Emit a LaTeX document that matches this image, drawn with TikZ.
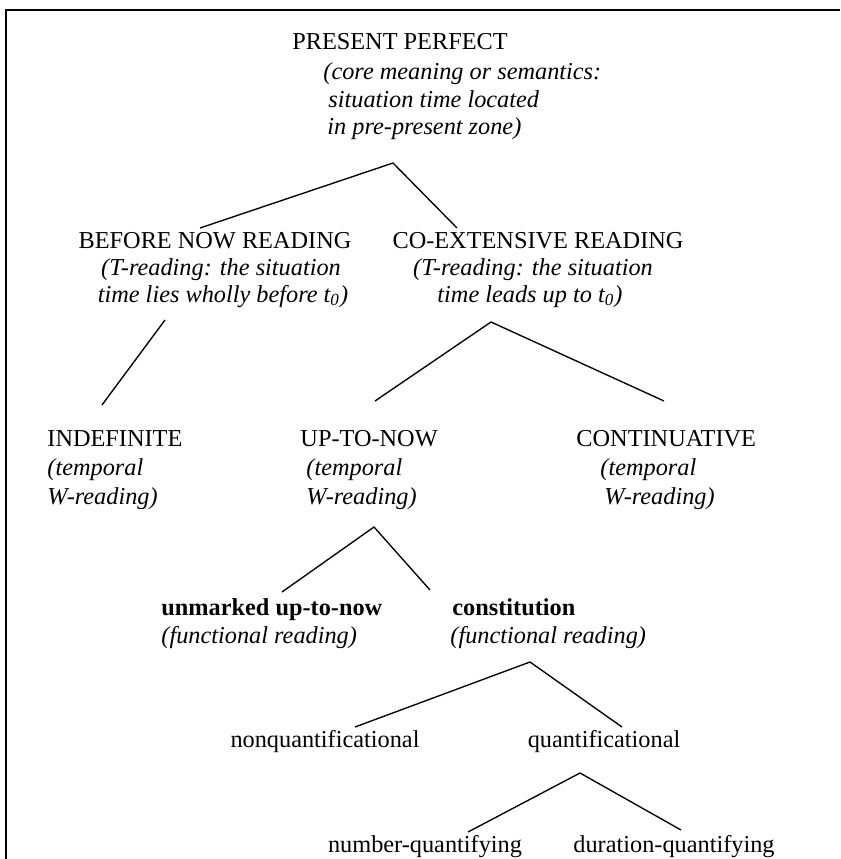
\documentclass[tikz,border=0pt]{standalone}
\usepackage{fontspec}
\setmainfont{Liberation Serif}
\usetikzlibrary{calc}

\tikzset{
  txt/.style={inner sep=0pt, anchor=base, font=\fontsize{10.8}{12.4}\selectfont},
  ltxt/.style={txt, anchor=base west},
  leg/.style={line width=.6pt},
}

\begin{document}
\begin{tikzpicture}[x=0.4444pt, y=-0.4444pt]
\useasboundingbox (0,0) rectangle (840,859);
% frame
\draw[line width=.9pt] (6,859) -- (6,10) -- (840,10);

% present perfect
\node[txt] (pp) at (400,50) {PRESENT PERFECT};
\node[ltxt] (pp-1) at (323,80) {\textit{(core meaning or semantics:}};
\node[ltxt] (pp-2) at (328,108) {\textit{situation time located}};
\node[ltxt] (pp-3) at (327,135) {\textit{in pre-present zone)}};
\coordinate (pp-a) at (393,163);

% readings
\node[txt] (bnr) at (215,248) {BEFORE NOW READING};
\node[txt] (bnr-1) at (221,275) {\textit{(T-reading: the situation}};
\node[txt] (bnr-2) at (223,302) {\textit{time lies wholly before t\textsubscript{0})}};
\node[txt] (cer) at (538,248) {CO-EXTENSIVE READING};
\node[txt] (cer-1) at (533,275) {\textit{(T-reading: the situation}};
\node[txt] (cer-2) at (530,302) {\textit{time leads up to t\textsubscript{0})}};
\coordinate (bnr-t) at (200,228);
\coordinate (cer-t) at (457,228);
\draw[leg] (bnr-t) -- (pp-a) -- (cer-t);

\coordinate (bnr-a) at (165,320);
\coordinate (cer-a) at (491,322);

% temporal W-readings
\node[ltxt] (ind) at (47,446) {INDEFINITE};
\node[ltxt] (ind-1) at (47,475) {\textit{(temporal}};
\node[ltxt] (ind-2) at (47,504) {\textit{W-reading)}};
\node[ltxt] (utn) at (300,446) {UP-TO-NOW};
\node[ltxt] (utn-1) at (306,475) {\textit{(temporal}};
\node[ltxt] (utn-2) at (306,504) {\textit{W-reading)}};
\node[ltxt] (con) at (576,446) {CONTINUATIVE};
\node[ltxt] (con-1) at (600,475) {\textit{(temporal}};
\node[ltxt] (con-2) at (604,504) {\textit{W-reading)}};
\coordinate (ind-t) at (102,405);
\coordinate (utn-t) at (375,401);
\coordinate (con-t) at (664,401);
\draw[leg] (bnr-a) -- (ind-t);
\draw[leg] (utn-t) -- (cer-a) -- (con-t);

% functional readings
\coordinate (utn-a) at (374,527);
\node[ltxt] (unm) at (161,615) {\textbf{unmarked up-to-now}};
\node[ltxt] (unm-1) at (161,643) {\textit{(functional reading)}};
\node[ltxt] (cst) at (452,615) {\textbf{constitution}};
\node[ltxt] (cst-1) at (450,643) {\textit{(functional reading)}};
\coordinate (unm-t) at (282,592);
\coordinate (cst-t) at (430,590);
\draw[leg] (unm-t) -- (utn-a) -- (cst-t);

% quantification
\coordinate (cst-a) at (530,662);
\node[txt] (nonq) at (325,747) {nonquantificational};
\node[txt] (qnt) at (604,747) {quantificational};
\coordinate (nonq-t) at (355,727);
\coordinate (qnt-t) at (622,727);
\draw[leg] (nonq-t) -- (cst-a) -- (qnt-t);

\coordinate (qnt-a) at (580,773);
\node[txt] (numq) at (425,852) {number-quantifying};
\node[txt] (durq) at (674,852) {duration-quantifying};
\coordinate (numq-t) at (468,832);
\coordinate (durq-t) at (681,830);
\draw[leg] (numq-t) -- (qnt-a) -- (durq-t);
\end{tikzpicture}
\end{document}
